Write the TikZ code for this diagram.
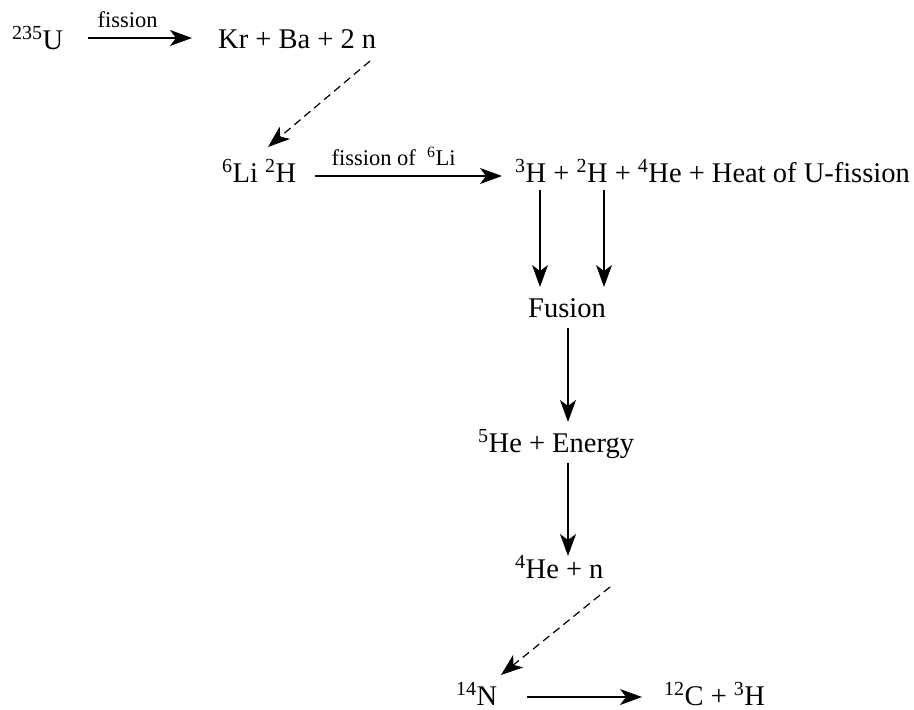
\documentclass[tikz,border=0pt]{standalone}
\usepackage{fontspec}
\setmainfont{Liberation Serif}
\usetikzlibrary{arrows.meta}
\newcommand{\iso}[2]{\textsuperscript{#1}#2}
\tikzset{
  chem/.style={anchor=base west, inner sep=0pt, font=\fontsize{28.5}{32}\selectfont},
  lbl/.style={anchor=base, inner sep=0pt, font=\fontsize{22.5}{26}\selectfont},
  rxn/.style={-{Stealth[length=22pt,width=16pt,inset=6pt]}, line width=1.2pt},
  rxnd/.style={rxn, dashed, dash pattern=on 8pt off 5pt}
}
\begin{document}
\begin{tikzpicture}[x=1pt,y=-1pt]
\useasboundingbox (0,0) rectangle (914,710);
\node[chem] (u) at (12,49) {\iso{235}{U}};
\node[chem] (kr) at (218,48) {Kr + Ba + 2 n};
\node[chem] (li) at (222,182) {\iso{6}{Li} \iso{2}{H}};
\node[chem] (h) at (515,182) {\iso{3}{H} + \iso{2}{H} + \iso{4}{He} + Heat of U-fission};
\node[chem] (fu) at (528,317) {Fusion};
\node[chem] (he5) at (478,452) {\iso{5}{He} + Energy};
\node[chem] (he4) at (515,578) {\iso{4}{He} + n};
\node[chem] (n14) at (456,705) {\iso{14}{N}};
\node[chem] (c12) at (664,705) {\iso{12}{C} + \iso{3}{H}};
% arrow endpoints
\coordinate (a1s) at (88,38);  \coordinate (a1e) at (192,38);
\coordinate (d1s) at (370,61); \coordinate (d1e) at (268,147);
\coordinate (a2s) at (315,176); \coordinate (a2e) at (502,176);
\coordinate (v1s) at (540,190); \coordinate (v1e) at (540,287);
\coordinate (v2s) at (604,190); \coordinate (v2e) at (604,287);
\coordinate (v3s) at (568,328); \coordinate (v3e) at (568,422);
\coordinate (v4s) at (568,463); \coordinate (v4e) at (568,556);
\coordinate (d2s) at (610,587); \coordinate (d2e) at (501,675);
\coordinate (a3s) at (527,697); \coordinate (a3e) at (642,697);
\draw[rxn] (a1s) -- node[lbl, above=10pt, pos=0.38] (l1) {fission} (a1e);
\draw[rxnd] (d1s) -- (d1e);
\draw[rxn] (a2s) -- node[lbl, above=10pt, pos=0.42] (l2) {fission of\hspace{0.5em}\iso{6}{Li}} (a2e);
\draw[rxn] (v1s) -- (v1e);
\draw[rxn] (v2s) -- (v2e);
\draw[rxn] (v3s) -- (v3e);
\draw[rxn] (v4s) -- (v4e);
\draw[rxnd] (d2s) -- (d2e);
\draw[rxn] (a3s) -- (a3e);
\end{tikzpicture}
\end{document}
